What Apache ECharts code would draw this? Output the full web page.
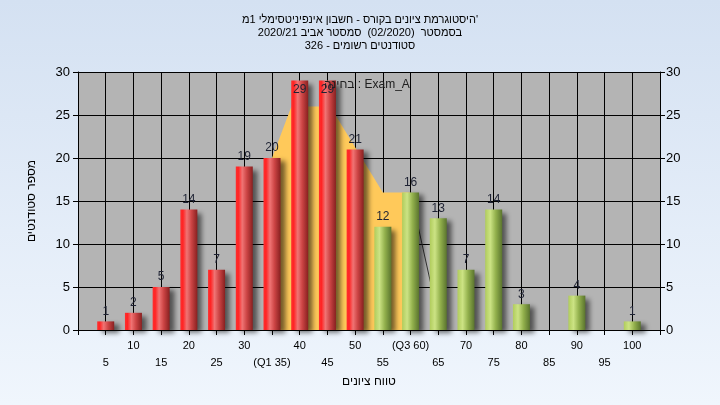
<!DOCTYPE html>
<html>
<head>
<meta charset="utf-8">
<script src="https://cdn.jsdelivr.net/npm/echarts@6/dist/echarts.min.js"></script>
<style>html,body{margin:0;padding:0;}#c{width:720px;height:405px;}</style>
</head>
<body>
<div id="c"></div>
<script>
// ---- data ----
const titleLines = [
  "היסטוגרמת ציונים בקורס - חשבון אינפיניטסימלי 1מ'",
  "בסמסטר  (02/2020)  סמסטר אביב 2020/21",
  "סטודנטים רשומים - 326"
];
const xAxisTitle = "טווח ציונים";
const yAxisTitle = "מספר סטודנטים";
const seriesLabel = "בחינה : Exam_A";
const bins   = [5,10,15,20,25,30,35,40,45,50,55,60,65,70,75,80,85,90,95,100];
const counts = [1,2,5,14,7,19,20,29,29,21,12,16,13,7,14,3,0,4,0,1];
const q1 = 35, q3 = 60;
const failMax = 50;            // bins up to this value drawn red, above green
const bandX = [35, 38.5, 45.5, 55, 60];
const bandY = [20, 26, 26, 16, 16];
const tailX = [60, 65.5];
const tailY = [16, 0];
const xMin = 0, xMax = 105, xStep = 5;
const yMin = 0, yMax = 30, yStep = 5;

const FONT = "'Liberation Sans', Arial, sans-serif";
const red = new echarts.graphic.LinearGradient(0,0,1,0,[
  {offset:0,color:'#ff2e2e'},{offset:0.15,color:'#ff2424'},
  {offset:0.38,color:'#f07474'},{offset:0.65,color:'#cc4444'},{offset:1,color:'#882020'}]);
const green = new echarts.graphic.LinearGradient(0,0,1,0,[
  {offset:0,color:'#b0cc5c'},{offset:0.3,color:'#cce384'},
  {offset:0.62,color:'#92b04c'},{offset:1,color:'#5a742e'}]);

const barData = bins.map((b,i)=>{
  const item = {value:[b, counts[i]]};
  if (counts[i] >= yMax - 2) item.label = {position:'insideTop', distance:3};
  return item;
});

const chart = echarts.init(document.getElementById('c'));
chart.setOption({
  animation:false,
  backgroundColor: new echarts.graphic.LinearGradient(0,0,0,1,[
    {offset:0,color:'#d4e1f2'},{offset:1,color:'#f0f6fd'}]),
  textStyle:{fontFamily:FONT},
  title:{
    text: titleLines.join('\n'),
    left:'center', top:8,
    textStyle:{fontSize:11, fontWeight:'normal', color:'#000', lineHeight:13, fontFamily:FONT}
  },
  grid:{left:78, right:60, top:72, bottom:75, show:true, backgroundColor:'#b4b4b4', borderWidth:0},
  xAxis:{
    type:'value', min:xMin, max:xMax, interval:xStep,
    name: xAxisTitle, nameLocation:'middle', nameGap:46,
    nameTextStyle:{fontSize:12, color:'#000', fontFamily:FONT},
    axisLine:{show:true, lineStyle:{color:'#000', width:1}},
    axisTick:{show:true, length:5, lineStyle:{color:'#000'}},
    splitLine:{show:true, lineStyle:{color:'#000', width:1}},
    axisLabel:{
      color:'#000', fontSize:11, lineHeight:17, margin:7, fontFamily:FONT,
      formatter:function(v){
        if (v <= xMin || v >= xMax) return '';
        let t = v===q1 ? '(Q1 '+v+')' : v===q3 ? '(Q3 '+v+')' : String(v);
        return (v % 10 === 5) ? '\n' + t : t;
      }
    }
  },
  yAxis:[{
    type:'value', min:yMin, max:yMax, interval:yStep, position:'left',
    name: yAxisTitle, nameLocation:'middle', nameGap:40, nameRotate:90,
    nameTextStyle:{fontSize:12, color:'#000', fontFamily:FONT},
    axisLine:{show:true, lineStyle:{color:'#000'}},
    axisTick:{show:true, length:5, lineStyle:{color:'#000'}},
    splitLine:{show:true, lineStyle:{color:'#000', width:1}},
    axisLabel:{color:'#000', fontSize:13, margin:8, fontFamily:FONT}
  },{
    type:'value', min:yMin, max:yMax, interval:yStep, position:'right',
    axisLine:{show:true, lineStyle:{color:'#000'}},
    axisTick:{show:true, length:5, lineStyle:{color:'#000'}},
    splitLine:{show:false},
    axisLabel:{color:'#000', fontSize:13, margin:6, fontFamily:FONT}
  }],
  series:[
    {
      type:'line', name:'band', z:1, symbol:'none', silent:true,
      data: bandX.map((x,i)=>[x, bandY[i]]),
      lineStyle:{width:0},
      areaStyle:{color:'#ffc95a', opacity:1, origin:'start'}
    },
    {
      type:'line', name:'tail', z:1, symbol:'none', silent:true,
      data: tailX.map((x,i)=>[x, tailY[i]]),
      lineStyle:{width:1, color:'#333'}
    },
    {
      type:'bar', name:'Exam_A', z:3, barWidth:17,
      data: barData,
      itemStyle:{
        color:function(p){ return p.value[0] <= failMax ? red : green; },
        shadowColor:'rgba(0,0,0,0.55)', shadowBlur:5, shadowOffsetX:5, shadowOffsetY:3
      },
      label:{
        show:true, position:'top', distance:4, fontSize:12, color:'#1e2233', fontFamily:FONT,
        formatter:function(p){ return p.value[1] ? String(p.value[1]) : ''; }
      }
    }
  ],
  graphic:[{
    type:'text', left:324, top:79, z:10,
    style:{text:seriesLabel, fontSize:12, fill:'#202020', fontFamily:FONT}
  }]
});
</script>
</body>
</html>
